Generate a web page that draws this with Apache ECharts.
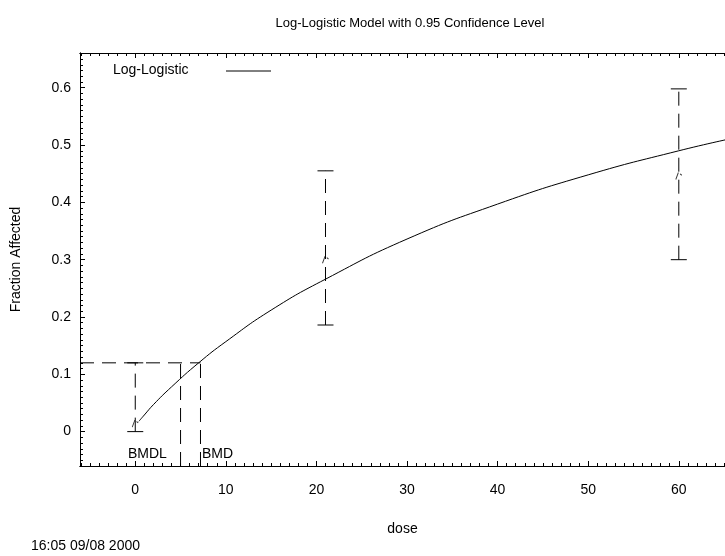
<!DOCTYPE html>
<html>
<head>
<meta charset="utf-8">
<script src="https://cdn.jsdelivr.net/npm/echarts@6/dist/echarts.min.js"></script>
<style>html,body{margin:0;padding:0;background:#fff}#main{width:725px;height:556px}</style>
</head>
<body>
<div id="main"></div>
<script>
// model curve
const curveDose = [0.4, 1, 2, 4, 7, 10, 15, 21, 30, 40, 50, 60, 66]
const curveFrac = [0.018, 0.029, 0.047, 0.078, 0.12, 0.157, 0.212, 0.266, 0.336, 0.397, 0.448, 0.49, 0.512]
// observed data with confidence limits
const obsDose = [0, 21, 60]
const obsFrac = [0.014, 0.3, 0.446]
const obsLow = [0, 0.186, 0.3]
const obsHigh = [0.12, 0.455, 0.598]
const bmdl = 5.0
const bmd = 7.2
const bmr = 0.12
const xTicks = [0, 10, 20, 30, 40, 50, 60]
const yTicks = [0, 0.1, 0.2, 0.3, 0.4, 0.5, 0.6]

const font = 'Liberation Sans, Arial, sans-serif'
const xMin = -6.1, xMax = 65.1, yMin = -0.06, yMax = 0.6606
const xMinor = [], yMinor = []
for (let v = -6; v <= 65; v += 1) xMinor.push(v)
for (let v = -0.06; v <= 0.66; v += 0.01) yMinor.push(+v.toFixed(2))

const dash = { color: '#000', width: 1, type: [14, 8] }
const chart = echarts.init(document.getElementById('main'))

function errBar(params, api) {
  const x = api.value(0)
  const lo = api.coord([x, api.value(1)])
  const hi = api.coord([x, api.value(2)])
  const c = { stroke: '#000', lineWidth: 1 }
  return {
    type: 'group',
    children: [
      { type: 'line', shape: { x1: lo[0], y1: lo[1], x2: hi[0], y2: hi[1] }, style: Object.assign({ lineDash: [14, 8] }, c) },
      { type: 'line', shape: { x1: lo[0] - 8, y1: lo[1], x2: lo[0] + 8, y2: lo[1] }, style: c },
      { type: 'line', shape: { x1: hi[0] - 8, y1: hi[1], x2: hi[0] + 8, y2: hi[1] }, style: c }
    ]
  }
}

const line = { onZero: false, lineStyle: { color: '#000' } }
const baseX = { type: 'value', min: xMin, max: xMax, splitLine: { show: false }, axisLine: line }
const baseY = { type: 'value', min: yMin, max: yMax, splitLine: { show: false }, axisLine: line }
const tick = (len, vals) => ({ inside: true, length: len, customValues: vals, lineStyle: { color: '#000' } })

chart.setOption({
  animation: false,
  title: {
    text: 'Log-Logistic Model with 0.95 Confidence Level', left: 405, top: 12, textAlign: 'center',
    textStyle: { fontFamily: font, fontSize: 13, fontWeight: 'normal', color: '#000' }
  },
  grid: { left: 80, right: 0, top: 53, bottom: 90 },
  xAxis: [
    Object.assign({}, baseX, {
      name: 'dose', nameLocation: 'middle', nameGap: 56,
      nameTextStyle: { fontFamily: font, fontSize: 14, color: '#000' },
      axisTick: tick(5, xTicks),
      axisLabel: { customValues: xTicks, fontFamily: font, fontSize: 14, color: '#000', margin: 17 }
    }),
    Object.assign({}, baseX, { position: 'bottom', axisLabel: { show: false }, axisTick: tick(3, xMinor) }),
    Object.assign({}, baseX, { position: 'top', axisLabel: { show: false }, axisTick: tick(5, xTicks) }),
    Object.assign({}, baseX, { position: 'top', axisLabel: { show: false }, axisTick: tick(3, xMinor) })
  ],
  yAxis: [
    Object.assign({}, baseY, {
      name: 'Fraction Affected', nameLocation: 'middle', nameGap: 57,
      nameTextStyle: { fontFamily: font, fontSize: 14, color: '#000' },
      axisTick: tick(5, yTicks),
      axisLabel: { customValues: yTicks, fontFamily: font, fontSize: 14, color: '#000', margin: 9,
        formatter: v => Math.abs(v) < 1e-9 ? '0' : String(+v.toFixed(1)) }
    }),
    Object.assign({}, baseY, { position: 'left', axisLabel: { show: false }, axisTick: tick(3, yMinor) })
  ],
  series: [
    {
      type: 'line', data: curveDose.map((d, i) => [d, curveFrac[i]]), smooth: true,
      showSymbol: false, lineStyle: { color: '#000', width: 1 }
    },
    {
      type: 'custom', renderItem: errBar,
      data: obsDose.map((d, i) => [d, obsLow[i], obsHigh[i]])
    },
    {
      type: 'scatter', data: obsDose.map((d, i) => [d, obsFrac[i]]),
      symbol: 'path://M0,10 L3,0 M5,2 L7,4', symbolSize: [6, 7],
      itemStyle: { color: 'none', borderColor: '#000', borderWidth: 1 }
    },
    { type: 'line', data: [[xMin, bmr], [bmd, bmr]], showSymbol: false, lineStyle: dash },
    { type: 'line', data: [[bmdl, yMin], [bmdl, bmr]], showSymbol: false, lineStyle: dash },
    { type: 'line', data: [[bmd, yMin], [bmd, bmr]], showSymbol: false, lineStyle: dash }
  ],
  graphic: [
    { type: 'text', left: 128, top: 447, style: { text: 'BMDL', font: '14px ' + font, fill: '#000' } },
    { type: 'text', left: 202, top: 447, style: { text: 'BMD', font: '14px ' + font, fill: '#000' } },
    { type: 'text', left: 113, top: 63, style: { text: 'Log-Logistic', font: '14px ' + font, fill: '#000' } },
    { type: 'line', shape: { x1: 226, y1: 71, x2: 271, y2: 71 }, style: { stroke: '#000', lineWidth: 1 } },
    { type: 'text', left: 31, top: 539, style: { text: '16:05 09/08 2000', font: '14px ' + font, fill: '#000' } }
  ]
})
</script>
</body>
</html>
